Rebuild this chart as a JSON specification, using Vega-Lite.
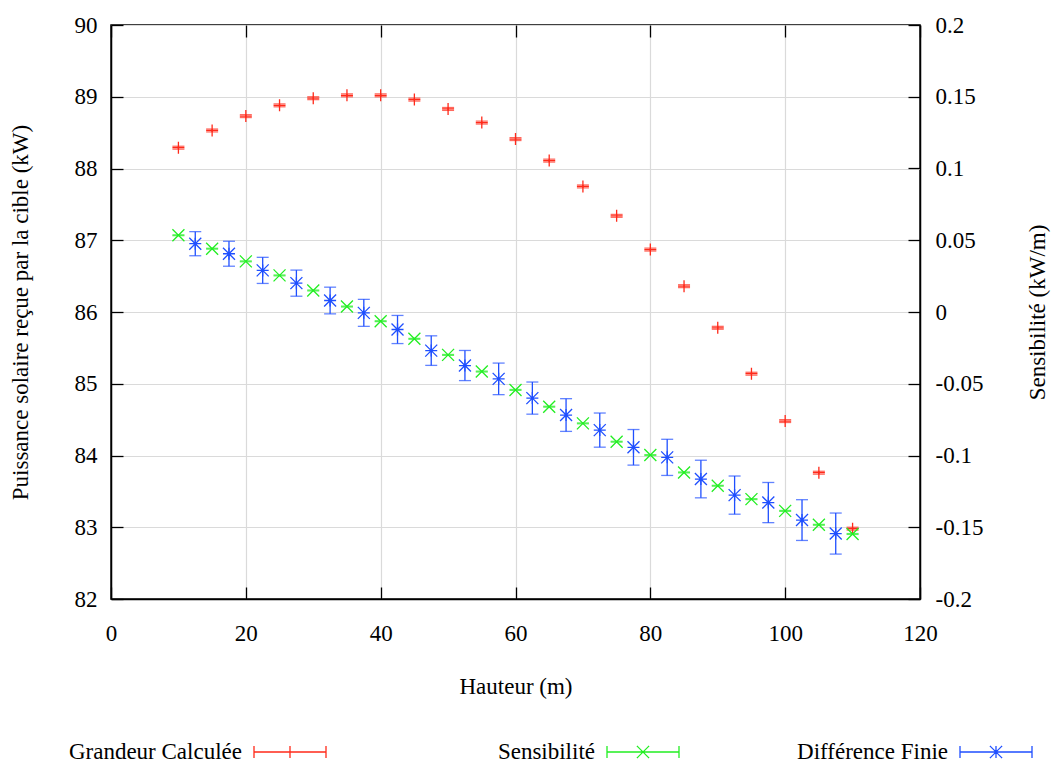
{
  "$schema": "https://vega.github.io/schema/vega-lite/v6.json",
  "width": 809,
  "height": 574,
  "autosize": {"type": "none"},
  "padding": {"left": 111, "top": 25, "right": 131, "bottom": 166},
  "background": "white",
  "config": {
    "font": "Liberation Serif",
    "view": {"stroke": "black", "strokeWidth": 1.5},
    "axis": {
      "labelFont": "Liberation Serif", "titleFont": "Liberation Serif",
      "labelFontSize": 23, "titleFontSize": 23, "labelColor": "black", "titleColor": "black",
      "titleFontWeight": "normal", "tickColor": "black", "tickSize": -12, "tickWidth": 1.3,
      "domainColor": "black", "domainWidth": 1.5, "gridColor": "#dadada", "gridWidth": 1.2,
      "labelFlush": false, "labelOverlap": false
    }
  },
  "datasets": {
    "calc": [
      {"h": 10, "p": 88.29, "err": 0.02, "series": "Grandeur Calculée"},
      {"h": 15, "p": 88.53, "err": 0.02, "series": "Grandeur Calculée"},
      {"h": 20, "p": 88.73, "err": 0.02, "series": "Grandeur Calculée"},
      {"h": 25, "p": 88.88, "err": 0.02, "series": "Grandeur Calculée"},
      {"h": 30, "p": 88.98, "err": 0.02, "series": "Grandeur Calculée"},
      {"h": 35, "p": 89.02, "err": 0.02, "series": "Grandeur Calculée"},
      {"h": 40, "p": 89.02, "err": 0.02, "series": "Grandeur Calculée"},
      {"h": 45, "p": 88.96, "err": 0.02, "series": "Grandeur Calculée"},
      {"h": 50, "p": 88.83, "err": 0.02, "series": "Grandeur Calculée"},
      {"h": 55, "p": 88.64, "err": 0.02, "series": "Grandeur Calculée"},
      {"h": 60, "p": 88.41, "err": 0.02, "series": "Grandeur Calculée"},
      {"h": 65, "p": 88.11, "err": 0.02, "series": "Grandeur Calculée"},
      {"h": 70, "p": 87.75, "err": 0.02, "series": "Grandeur Calculée"},
      {"h": 75, "p": 87.34, "err": 0.02, "series": "Grandeur Calculée"},
      {"h": 80, "p": 86.87, "err": 0.02, "series": "Grandeur Calculée"},
      {"h": 85, "p": 86.36, "err": 0.02, "series": "Grandeur Calculée"},
      {"h": 90, "p": 85.78, "err": 0.02, "series": "Grandeur Calculée"},
      {"h": 95, "p": 85.14, "err": 0.02, "series": "Grandeur Calculée"},
      {"h": 100, "p": 84.48, "err": 0.02, "series": "Grandeur Calculée"},
      {"h": 105, "p": 83.76, "err": 0.02, "series": "Grandeur Calculée"},
      {"h": 110, "p": 82.98, "err": 0.02, "series": "Grandeur Calculée"}
    ],
    "sens": [
      {"h": 10, "s": 0.0535, "err": 0.0003, "series": "Sensibilité"},
      {"h": 15, "s": 0.0441, "err": 0.0003, "series": "Sensibilité"},
      {"h": 20, "s": 0.0353, "err": 0.0003, "series": "Sensibilité"},
      {"h": 25, "s": 0.0255, "err": 0.0003, "series": "Sensibilité"},
      {"h": 30, "s": 0.0150, "err": 0.0003, "series": "Sensibilité"},
      {"h": 35, "s": 0.0038, "err": 0.0003, "series": "Sensibilité"},
      {"h": 40, "s": -0.0064, "err": 0.0003, "series": "Sensibilité"},
      {"h": 45, "s": -0.0187, "err": 0.0003, "series": "Sensibilité"},
      {"h": 50, "s": -0.0299, "err": 0.0003, "series": "Sensibilité"},
      {"h": 55, "s": -0.0415, "err": 0.0003, "series": "Sensibilité"},
      {"h": 60, "s": -0.0543, "err": 0.0003, "series": "Sensibilité"},
      {"h": 65, "s": -0.0660, "err": 0.0003, "series": "Sensibilité"},
      {"h": 70, "s": -0.0776, "err": 0.0003, "series": "Sensibilité"},
      {"h": 75, "s": -0.0904, "err": 0.0003, "series": "Sensibilité"},
      {"h": 80, "s": -0.0997, "err": 0.0003, "series": "Sensibilité"},
      {"h": 85, "s": -0.1118, "err": 0.0003, "series": "Sensibilité"},
      {"h": 90, "s": -0.1211, "err": 0.0003, "series": "Sensibilité"},
      {"h": 95, "s": -0.1304, "err": 0.0003, "series": "Sensibilité"},
      {"h": 100, "s": -0.1386, "err": 0.0003, "series": "Sensibilité"},
      {"h": 105, "s": -0.1483, "err": 0.0003, "series": "Sensibilité"},
      {"h": 110, "s": -0.1547, "err": 0.0003, "series": "Sensibilité"},
      {"h": 12.5, "s": 0.0476, "err": 0.0084, "series": "Différence Finie"},
      {"h": 17.5, "s": 0.0406, "err": 0.0087, "series": "Différence Finie"},
      {"h": 22.5, "s": 0.0290, "err": 0.0091, "series": "Différence Finie"},
      {"h": 27.5, "s": 0.0201, "err": 0.0091, "series": "Différence Finie"},
      {"h": 32.5, "s": 0.0080, "err": 0.0093, "series": "Différence Finie"},
      {"h": 37.5, "s": -0.0006, "err": 0.0094, "series": "Différence Finie"},
      {"h": 42.5, "s": -0.0122, "err": 0.0098, "series": "Différence Finie"},
      {"h": 47.5, "s": -0.0269, "err": 0.0103, "series": "Différence Finie"},
      {"h": 52.5, "s": -0.0373, "err": 0.0105, "series": "Différence Finie"},
      {"h": 57.5, "s": -0.0466, "err": 0.0110, "series": "Différence Finie"},
      {"h": 62.5, "s": -0.0600, "err": 0.0112, "series": "Différence Finie"},
      {"h": 67.5, "s": -0.0718, "err": 0.0114, "series": "Différence Finie"},
      {"h": 72.5, "s": -0.0823, "err": 0.0119, "series": "Différence Finie"},
      {"h": 77.5, "s": -0.0943, "err": 0.0124, "series": "Différence Finie"},
      {"h": 82.5, "s": -0.1013, "err": 0.0126, "series": "Différence Finie"},
      {"h": 87.5, "s": -0.1164, "err": 0.0131, "series": "Différence Finie"},
      {"h": 92.5, "s": -0.1276, "err": 0.0133, "series": "Différence Finie"},
      {"h": 97.5, "s": -0.1328, "err": 0.0140, "series": "Différence Finie"},
      {"h": 102.5, "s": -0.1450, "err": 0.0142, "series": "Différence Finie"},
      {"h": 107.5, "s": -0.1544, "err": 0.0143, "series": "Différence Finie"}
    ]
  },
  "layer": [
    {
      "data": {"name": "calc"},
      "encoding": {
        "x": {
          "field": "h", "type": "quantitative",
          "scale": {"domain": [0, 120], "nice": false, "zero": false},
          "axis": {
            "orient": "bottom", "values": [0, 20, 40, 60, 80, 100, 120], "grid": true,
            "title": "Hauteur (m)", "labelPadding": 35, "labelFont": "Liberation Serif", "labelFontSize": 23,
            "titleX": 404.5, "titleY": 87, "titleBaseline": "middle", "titleAlign": "center"
          }
        },
        "y": {
          "field": "p", "type": "quantitative",
          "scale": {"domain": [82, 90], "nice": false, "zero": false},
          "axis": {
            "orient": "left", "values": [82, 83, 84, 85, 86, 87, 88, 89, 90], "grid": true,
            "title": "Puissance solaire reçue par la cible (kW)", "labelPadding": 26,
            "labelFont": "Liberation Serif", "labelFontSize": 23,
            "titleX": -91, "titleY": 287, "titleAngle": -90, "titleBaseline": "middle", "titleAlign": "center"
          }
        },
        "color": {
          "field": "series", "type": "nominal",
          "scale": {"domain": ["Grandeur Calculée", "Sensibilité", "Différence Finie"], "range": ["#ff2a1a", "#22ee22", "#1f4fff"]},
          "legend": {
            "title": null, "orient": "none", "legendX": -135, "legendY": 712,
            "direction": "horizontal", "columns": 3, "columnPadding": 0, "gridAlign": "none",
            "symbolSize": 5184, "symbolStrokeWidth": 1.3,
            "labelFont": "Liberation Serif", "labelFontSize": 23, "labelColor": "black",
            "labelAlign": "right", "labelBaseline": "middle", "labelLimit": 0,
            "encode": {
              "entries": {"update": {"width": {"value": 354}, "height": {"value": 30}}},
              "labels": {"update": {"x": {"value": 266}, "y": {"value": 15}, "align": {"value": "right"}, "baseline": {"value": "middle"}}},
              "symbols": {
                "update": {
                  "x": {"value": 314}, "y": {"value": 15},
                  "shape": {"signal": "datum.value === 'Grandeur Calculée' ? 'M-1,0H1M-1,-0.17V0.17M1,-0.17V0.17M0,-0.17V0.17' : datum.value === 'Sensibilité' ? 'M-1,0H1M-1,-0.17V0.17M1,-0.17V0.17M-0.17,-0.17L0.17,0.17M-0.17,0.17L0.17,-0.17' : 'M-1,0H1M-1,-0.17V0.17M1,-0.17V0.17M0,-0.17V0.17M-0.17,-0.17L0.17,0.17M-0.17,0.17L0.17,-0.17'"},
                  "size": {"value": 5184},
                  "fill": {"value": "transparent"},
                  "stroke": {"scale": "color", "field": "value"},
                  "strokeWidth": {"value": 1.3},
                  "opacity": {"value": 1}
                }
              }
            }
          }
        }
      },
      "layer": [
        {
          "mark": {"type": "errorbar", "ticks": true, "size": 12, "thickness": 1.3},
          "encoding": {"yError": {"field": "err"}}
        },
        {
          "mark": {"type": "point", "filled": false, "size": 144, "strokeWidth": 1.3, "opacity": 1, "shape": "M-1,0H1M0,-1V1"}
        }
      ]
    },
    {
      "data": {"name": "sens"},
      "encoding": {
        "x": {
          "field": "h", "type": "quantitative",
          "scale": {"domain": [0, 120], "nice": false, "zero": false},
          "axis": {
            "orient": "top", "values": [0, 20, 40, 60, 80, 100, 120], "grid": false,
            "labels": false, "domain": false, "title": null
          }
        },
        "y": {
          "field": "s", "type": "quantitative",
          "scale": {"domain": [-0.2, 0.2], "nice": false, "zero": false},
          "axis": {
            "orient": "right", "values": [-0.2, -0.15, -0.1, -0.05, 0, 0.05, 0.1, 0.15, 0.2], "grid": false,
            "title": "Sensibilité (kW/m)", "labelPadding": 27,
            "labelFont": "Liberation Serif", "labelFontSize": 23,
            "labelExpr": "datum.value < 0 ? '-' + format(-datum.value, '~g') : format(datum.value, '~g')",
            "titleX": 117, "titleY": 287, "titleAngle": -90, "titleBaseline": "middle", "titleAlign": "center"
          }
        },
        "color": {
          "field": "series", "type": "nominal",
          "scale": {"domain": ["Grandeur Calculée", "Sensibilité", "Différence Finie"], "range": ["#ff2a1a", "#22ee22", "#1f4fff"]}
        }
      },
      "layer": [
        {
          "mark": {"type": "errorbar", "ticks": true, "size": 12, "thickness": 1.3},
          "encoding": {"yError": {"field": "err"}}
        },
        {
          "transform": [{"filter": "datum.series === 'Sensibilité'"}],
          "mark": {"type": "point", "filled": false, "size": 144, "strokeWidth": 1.3, "opacity": 1, "shape": "M-1,-1L1,1M-1,1L1,-1"}
        },
        {
          "transform": [{"filter": "datum.series === 'Différence Finie'"}],
          "mark": {"type": "point", "filled": false, "size": 144, "strokeWidth": 1.3, "opacity": 1, "shape": "M-1,0H1M0,-1V1M-1,-1L1,1M-1,1L1,-1"}
        }
      ]
    }
  ],
  "resolve": {"scale": {"x": "independent", "y": "independent"}}
}
